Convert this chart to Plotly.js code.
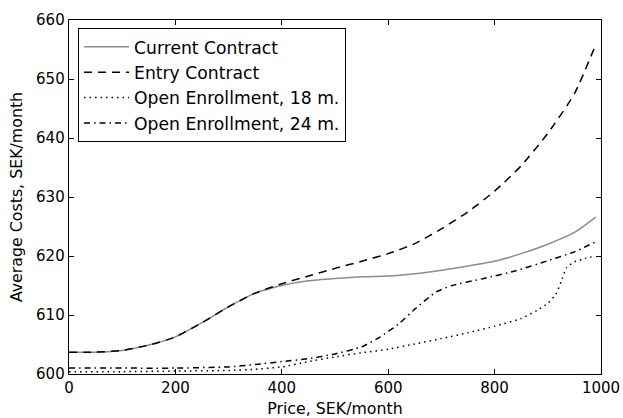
<!DOCTYPE html>
<html>
<head>
<meta charset="utf-8">
<script src="https://cdn.plot.ly/plotly-3.0.1.min.js"></script>
<style>html,body{margin:0;padding:0;background:#fff;}#chart{width:623px;height:418px;}</style>
</head>
<body>
<div id="chart"></div>
<script>
const seriesNames = ["Current Contract", "Entry Contract", "Open Enrollment, 18 m.", "Open Enrollment, 24 m."];

const currentX = [0, 50, 100, 150, 200, 250, 300, 350, 400, 450, 500, 550, 600, 650, 700, 750, 800, 850, 900, 950, 990];
const currentY = [603.7, 603.7, 604.0, 604.9, 606.3, 608.7, 611.4, 613.7, 615.0, 615.8, 616.2, 616.5, 616.6, 617.0, 617.6, 618.3, 619.1, 620.4, 622.0, 624.0, 626.6];

const entryX = [0, 50, 100, 150, 200, 250, 300, 350, 400, 450, 500, 550, 600, 650, 700, 750, 800, 850, 900, 950, 990];
const entryY = [603.7, 603.7, 604.0, 604.9, 606.3, 608.7, 611.4, 613.7, 615.3, 616.6, 617.9, 619.1, 620.4, 622.1, 624.6, 627.5, 631.0, 635.3, 640.8, 647.5, 655.8];

const open18X = [0, 100, 200, 300, 350, 400, 450, 500, 550, 600, 650, 700, 750, 800, 850, 880, 900, 915, 925, 935, 950, 970, 990];
const open18Y = [600.4, 600.4, 600.5, 600.6, 600.8, 601.2, 602.1, 602.9, 603.6, 604.2, 605.1, 606.0, 607.0, 608.1, 609.4, 610.8, 612.0, 613.5, 615.6, 618.0, 619.0, 619.6, 620.0];

const open24X = [0, 100, 200, 300, 350, 400, 450, 500, 550, 585, 620, 650, 690, 720, 780, 840, 900, 950, 990];
const open24Y = [601.0, 601.0, 601.0, 601.2, 601.6, 602.1, 602.6, 603.4, 604.6, 606.3, 608.5, 611.0, 613.9, 615.0, 616.2, 617.5, 619.2, 620.7, 622.4];

const xTicks = [0, 200, 400, 600, 800, 1000];
const yTicks = [600, 610, 620, 630, 640, 650, 660];

const tickFont = {family: "DejaVu Sans", size: 15, color: "#000"};
const titleFont = {family: "DejaVu Sans", size: 15.8, color: "#000"};
const legendFont = {family: "DejaVu Sans", size: 17.2, color: "#000"};

const traces = [
  {x: currentX, y: currentY, name: seriesNames[0], mode: "lines", line: {color: "#8c8c8c", width: 1.5, shape: "spline", smoothing: 0.6}},
  {x: entryX, y: entryY, name: seriesNames[1], mode: "lines", line: {color: "#000", width: 1.5, dash: "8px,6px", shape: "spline", smoothing: 0.6}},
  {x: open18X, y: open18Y, name: seriesNames[2], mode: "lines", line: {color: "#000", width: 1.5, dash: "1.5px,4px", shape: "spline", smoothing: 0.5}},
  {x: open24X, y: open24Y, name: seriesNames[3], mode: "lines", line: {color: "#000", width: 1.5, dash: "6px,4px,1.5px,4px", shape: "spline", smoothing: 0.5}}
];

const axisCommon = {
  showgrid: false, zeroline: false, showline: true, linecolor: "#000", linewidth: 1.3,
  mirror: "ticks", ticks: "inside", ticklen: 5, tickwidth: 1, tickcolor: "#000",
  tickfont: tickFont
};

const layout = {
  width: 623, height: 418,
  margin: {l: 69, r: 22, t: 20, b: 44, pad: 0},
  paper_bgcolor: "#fff", plot_bgcolor: "#fff",
  font: tickFont,
  showlegend: true,
  legend: {
    x: 0.017, y: 0.977, xanchor: "left", yanchor: "top",
    bordercolor: "#000", borderwidth: 1, bgcolor: "#fff",
    font: legendFont, itemwidth: 45
  },
  xaxis: Object.assign({}, axisCommon, {
    range: [0, 1000], tickvals: xTicks, ticktext: xTicks.map(String),
    title: {text: "Price, SEK/month", font: titleFont, standoff: 6}
  }),
  yaxis: Object.assign({}, axisCommon, {
    range: [600, 660], tickvals: yTicks, ticktext: yTicks.map(String),
    title: {text: "Average Costs, SEK/month", font: titleFont, standoff: 9}
  })
};

Plotly.newPlot("chart", traces, layout, {staticPlot: true});
</script>
</body>
</html>
